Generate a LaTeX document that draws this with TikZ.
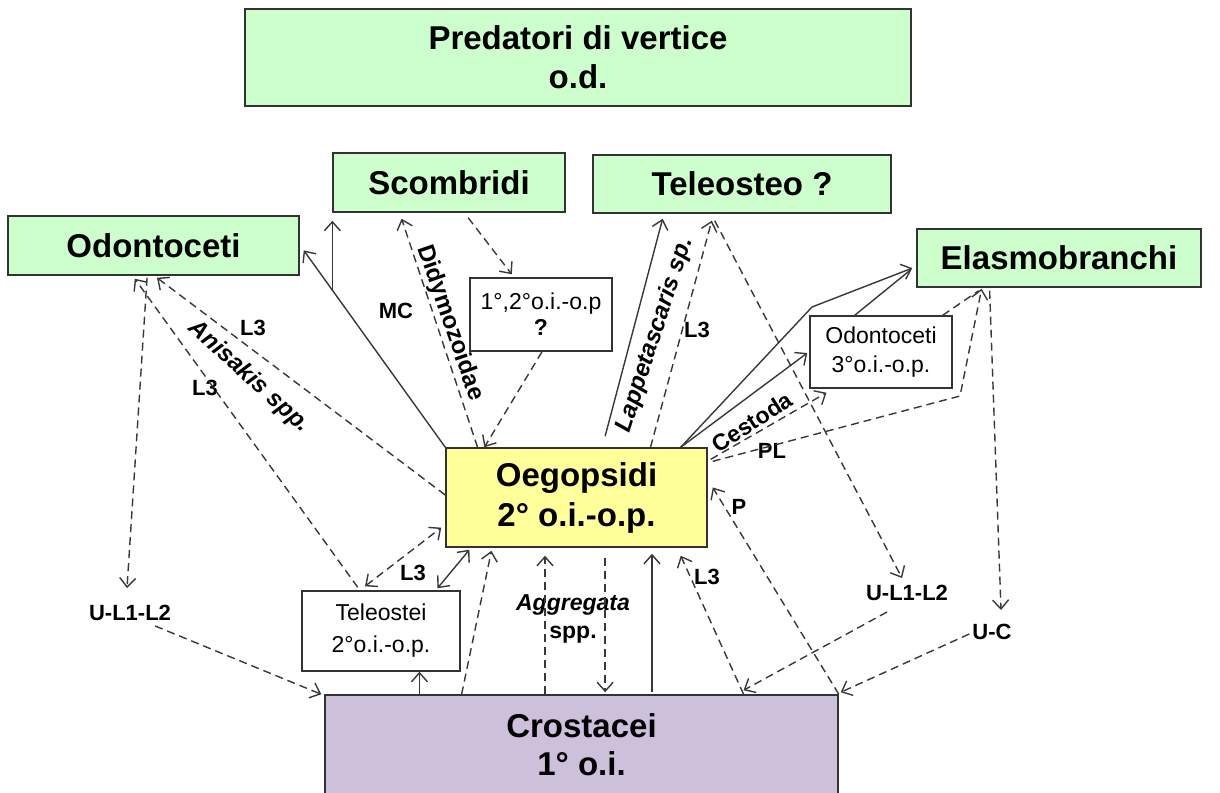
\documentclass[tikz,border=0pt]{standalone}
\usepackage{fontspec}
\setmainfont{Liberation Sans}
\usetikzlibrary{arrows.meta,calc}
\definecolor{lgreen}{HTML}{CCFFCC}
\definecolor{lyellow}{HTML}{FFFF99}
\definecolor{lpurple}{HTML}{CCC0DA}
\definecolor{boxline}{HTML}{333333}
\definecolor{lineclr}{HTML}{383838}
\newcommand\bigf{\fontsize{33}{38}\selectfont\bfseries}
\newcommand\medf{\fontsize{23}{29}\selectfont}
\newcommand\labf{\fontsize{22}{26}\selectfont\bfseries}
\begin{document}
\begin{tikzpicture}[x=1pt,y=-1pt,>={Straight Barb[length=9pt,width=16pt]}]
\tikzset{
 mybox/.style={draw=boxline,line width=1.5pt,inner sep=0pt,align=center},
 gbox/.style={mybox,fill=lgreen,font=\bigf},
 wbox/.style={mybox,fill=white,font=\medf},
 lab/.style={font=\labf,inner sep=1pt},
 conn/.style={draw=lineclr,line width=1.4pt},
 dsh/.style={conn,dash pattern=on 8pt off 5pt},
}
\useasboundingbox (0,0) rectangle (1220,792);
\clip (0,0) rectangle (1220,792);
% boxes
\node[gbox,minimum width=666pt,minimum height=97pt,font=\fontsize{33}{39}\selectfont\bfseries] (pred) at (578,57.5) {Predatori di vertice\\o.d.};
\node[gbox,minimum width=232pt,minimum height=59pt] (scomb) at (449,182.5) {Scombridi};
\node[gbox,minimum width=298pt,minimum height=58pt] (teleo) at (742,184) {Teleosteo ?};
\node[gbox,minimum width=291pt,minimum height=59pt] (odon) at (153.5,245.5) {Odontoceti};
\node[gbox,minimum width=284pt,minimum height=58pt] (elas) at (1059,258) {Elasmobranchi};
\node[wbox,minimum width=142pt,minimum height=73pt,font=\fontsize{23}{26}\selectfont] (q12) at (541,314.5) {1°,2°o.i.-o.p\\\textbf{?}};
\node[wbox,minimum width=142pt,minimum height=72pt] (odon3) at (881,352) {Odontoceti\\3°o.i.-o.p.};
\node[mybox,fill=lyellow,font=\bigf,minimum width=261pt,minimum height=99pt] (oeg) at (576.5,497.5) {Oegopsidi\\[2pt]2° o.i.-o.p.};
\node[wbox,minimum width=158pt,minimum height=80pt,font=\fontsize{23}{32}\selectfont] (tel2) at (381,631) {Teleostei\\2°o.i.-o.p.};
\node[mybox,fill=lpurple,font=\bigf,minimum width=513pt,minimum height=100pt] (crost) at (581.5,745) {Crostacei\\1° o.i.};
% labels
\node[lab] (mc) at (396,311) {MC};
\node[lab] (l3a) at (253,328) {L3};
\node[lab] (l3b) at (205,388) {L3};
\node[lab,font=\fontsize{24}{26}\selectfont\bfseries\itshape,rotate=-42] (anis) at (249,377) {Anisakis spp.};
\node[lab,font=\fontsize{24}{26}\selectfont\bfseries,rotate=-71] (didy) at (450,323) {Didymozoidae};
\node[lab,font=\fontsize{24}{26}\selectfont\bfseries\itshape,rotate=72] (lapp) at (655,335) {Lappetascaris sp.};
\node[lab] (l3c) at (697,330) {L3};
\node[lab,font=\fontsize{23}{26}\selectfont\bfseries,rotate=33] (cest) at (752,422) {Cestoda};
\node[lab] (pl) at (772,451) {PL};
\node[lab] (p) at (739,507) {P};
\node[lab] (l3d) at (413,573) {L3};
\node[lab] (l3e) at (707,577) {L3};
\node[lab,font=\fontsize{23}{26}\selectfont\bfseries\itshape] (aggr) at (573,605) {Aggregata};
\node[lab,font=\fontsize{23}{26}\selectfont\bfseries] (spp) at (573,635) {spp.};
\node[lab] (ul1) at (130,613) {U-L1-L2};
\node[lab] (ul2) at (907,593) {U-L1-L2};
\node[lab] (uc) at (992,632) {U-C};
\coordinate (bendA) at (812,307);
\coordinate (bendB) at (960,396);
% connectors to Odontoceti / Scombridi
\draw[conn,->] (oeg.north west) -- coordinate[pos=0.798] (br) ($(odon.north east)!0.58!(odon.south east)+(4,0)$);
\draw[conn,->] (br) -- ($(br |- scomb.south)+(0,8)$);
\draw[dsh,->] ($(oeg.north west)!0.475!(oeg.south west)$) -- ($(odon.south west)!0.512!(odon.south east)+(0,2)$);
\draw[dsh,->] ($(tel2.north west)!0.354!(tel2.north east)+(0,-3)$) -- ($(odon.south west)!0.436!(odon.south east)+(0,3)$);
\draw[dsh,->] ($(odon.south west)!0.478!(odon.south east)+(0,2)$) -- ($(ul1.north)+(-3,-16)$);
\draw[dsh,->] ($(ul1.south east)+(-17,4)$) -- ($(crost.north west)+(-3,0)$);
\draw[dsh,->] ($(oeg.north west)!0.123!(oeg.north east)$) -- ($(scomb.south west)!0.297!(scomb.south east)+(0,6)$);
\draw[dsh,->] ($(scomb.south west)!0.582!(scomb.south east)+(0,5)$) -- ($(q12.north west)!0.296!(q12.north east)+(0,-3)$);
\draw[dsh,->] ($(q12.south west)!0.507!(q12.south east)$) -- ($(oeg.north west)!0.149!(oeg.north east)$);
% Teleosteo
\draw[conn,->] ($(oeg.north west)!0.609!(oeg.north east)+(0,-11)$) -- ($(teleo.south west)!0.235!(teleo.south east)+(0,5)$);
\draw[dsh,->] ($(oeg.north west)!0.782!(oeg.north east)$) -- ($(teleo.south west)!0.399!(teleo.south east)+(0,7)$);
\draw[dsh,->] ($(teleo.south west)!0.409!(teleo.south east)+(0,7)$) -- ($(ul2.north)+(-5,-6)$);
\draw[dsh,->] ($(ul2.south)+(-20,10)$) -- ($(crost.north west)!0.815!(crost.north east)+(0,-4)$);
% Elasmobranchi
\draw[conn,->] ($(oeg.north west)!0.897!(oeg.north east)$) -- (bendA) -- ($(elas.north west)!0.67!(elas.south west)+(-4,0)$);
\draw[conn] ($(odon3.north west)!0.317!(odon3.north east)$) -- ($(elas.north west)!0.67!(elas.south west)+(-6,2)$);
\draw[conn,->] ($(oeg.north west)!0.897!(oeg.north east)$) -- ($(odon3.west)+(-2,1)$);
\draw[dsh,->] ($(oeg.north east)!0.12!(oeg.south east)+(3,0)$) -- ($(odon3.south west)!0.12!(odon3.south east)+(0,4)$);
\draw[dsh,->] ($(oeg.north east)!0.14!(oeg.south east)+(5,0)$) -- (bendB) -- ($(elas.south west)!0.229!(elas.south east)+(0,1)$);
\draw[dsh] ($(odon3.north west)!0.93!(odon3.north east)$) -- ($(elas.south west)!0.229!(elas.south east)+(-3,3)$);
\draw[dsh,->] ($(elas.south west)!0.257!(elas.south east)+(0,3)$) -- ($(uc.north)+(9,-13)$);
\draw[dsh,->] ($(uc.west)+(-2,2)$) -- ($(crost.north east)+(2,-2)$);
% Teleostei / Crostacei / Oegopsidi
\draw[dsh,<->] ($(tel2.north west)!0.4!(tel2.north east)+(0,-4)$) -- ($(oeg.north west)!0.8!(oeg.south west)+(-4,0)$);
\draw[conn,<->] ($(tel2.north west)!0.854!(tel2.north east)+(0,-2)$) -- ($(oeg.south west)!0.092!(oeg.south east)+(0,2)$);
\draw[dsh,->] ($(crost.north west)!0.267!(crost.north east)$) -- ($(oeg.south west)!0.176!(oeg.south east)+(0,3)$);
\draw[conn,->] ($(crost.north west)!0.185!(crost.north east)$) coordinate (a) -- (a |- tel2.south);
\draw[dsh,->] ($(crost.north west)!0.429!(crost.north east)$) coordinate (a) -- ($(a |- oeg.south)+(0,8)$);
\draw[dsh,->] ($(oeg.south west)!0.609!(oeg.south east)+(0,10)$) coordinate (a) -- ($(a |- crost.north)+(0,-2)$);
\draw[conn,->] ($(crost.north west)!0.637!(crost.north east)+(0,-2)$) coordinate (a) -- ($(a |- oeg.south)+(0,6)$);
\draw[dsh,->] ($(crost.north west)!0.815!(crost.north east)$) -- ($(oeg.south west)!0.897!(oeg.south east)+(0,8)$);
\draw[dsh,->] (crost.north east) -- ($(oeg.north east)!0.40!(oeg.south east)+(5,0)$);
\end{tikzpicture}
\end{document}
